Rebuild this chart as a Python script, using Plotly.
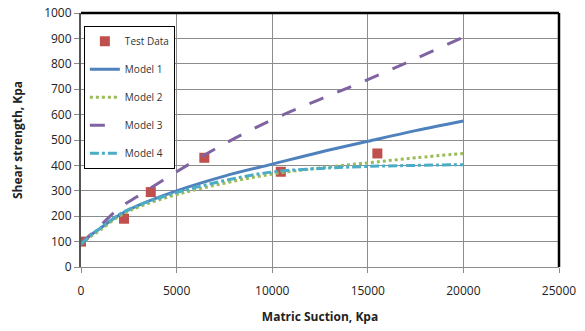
import plotly.graph_objects as go

# Test data
test_x = [0, 2250, 3650, 6450, 10450, 15500]
test_y = [100, 190, 295, 430, 375, 447]

# Model curves
model_x = [0, 500, 1000, 2000, 3000, 5000, 7500, 10000, 12500, 15000, 17500, 20000]
model1_y = [90, 125, 152, 205, 243, 300, 358, 405, 452, 495, 537, 575]
model2_y = [90, 120, 145, 200, 236, 285, 330, 366, 390, 410, 430, 447]
model3_y = [90, 128, 162, 232, 280, 375, 485, 580, 660, 738, 820, 905]
model4_y = [90, 125, 152, 207, 243, 293, 340, 374, 388, 396, 400, 403]

x_ticks = [0, 5000, 10000, 15000, 20000, 25000]
y_ticks = [0, 100, 200, 300, 400, 500, 600, 700, 800, 900, 1000]

font_family = "Open Sans, Liberation Sans, sans-serif"

fig = go.Figure()
fig.add_trace(go.Scatter(x=test_x, y=test_y, mode="markers", name="Test Data",
                         legendgroup="a",
                         marker=dict(symbol="square", size=10, color="#C0504D",
                                     line=dict(width=0))))
fig.add_trace(go.Scatter(x=model_x, y=model1_y, mode="lines", name="Model 1",
                         legendgroup="b", line=dict(color="#4F81BD", width=3, shape="spline")))
fig.add_trace(go.Scatter(x=model_x, y=model2_y, mode="lines", name="Model 2",
                         legendgroup="c", line=dict(color="#9BBB59", width=3, dash="dot", shape="spline")))
fig.add_trace(go.Scatter(x=model_x, y=model3_y, mode="lines", name="Model 3",
                         legendgroup="d", line=dict(color="#8064A2", width=3, dash="longdash", shape="spline")))
fig.add_trace(go.Scatter(x=model_x, y=model4_y, mode="lines", name="Model 4",
                         legendgroup="e", line=dict(color="#4BACC6", width=3, dash="dashdot", shape="spline")))

fig.update_layout(
    width=585, height=331,
    margin=dict(l=81, r=26, t=13, b=64),
    paper_bgcolor="white", plot_bgcolor="white",
    font=dict(family=font_family, size=12, color="#222"),
    showlegend=True,
    legend=dict(x=0.006, y=0.95, xanchor="left", yanchor="top",
                bgcolor="white", bordercolor="black", borderwidth=1,
                font=dict(size=10, color="#333"), traceorder="grouped",
                tracegroupgap=9, itemwidth=30),
    xaxis=dict(range=[0, 25000], tickvals=x_ticks, tickformat="d", showgrid=True,
               gridcolor="#8c8c8c", gridwidth=1, zeroline=False, automargin=False,
               showline=True, linecolor="#8c8c8c", linewidth=1,
               ticks="outside", ticklen=5, tickcolor="#8c8c8c",
               ticklabelstandoff=8,
               title=dict(text="<b>Matric Suction, Kpa</b>", font=dict(size=12), standoff=14)),
    yaxis=dict(range=[0, 1000], tickvals=y_ticks, showgrid=True,
               gridcolor="#8c8c8c", gridwidth=1, zeroline=False, automargin=False,
               showline=True, linecolor="#555", linewidth=2,
               ticks="outside", ticklen=5, tickcolor="#8c8c8c",
               title=dict(text="<b>Shear strength, Kpa</b>", font=dict(size=12), standoff=19)),
    shapes=[
        dict(type="line", xref="paper", yref="paper", x0=0, x1=1, y0=1, y1=1,
             line=dict(color="black", width=2.5)),
        dict(type="line", xref="paper", yref="paper", x0=1, x1=1, y0=0, y1=1,
             line=dict(color="black", width=2.5)),
    ],
)

fig.write_html("out.html", config={"displayModeBar": False},
               post_script="document.body.style.margin='0';")
